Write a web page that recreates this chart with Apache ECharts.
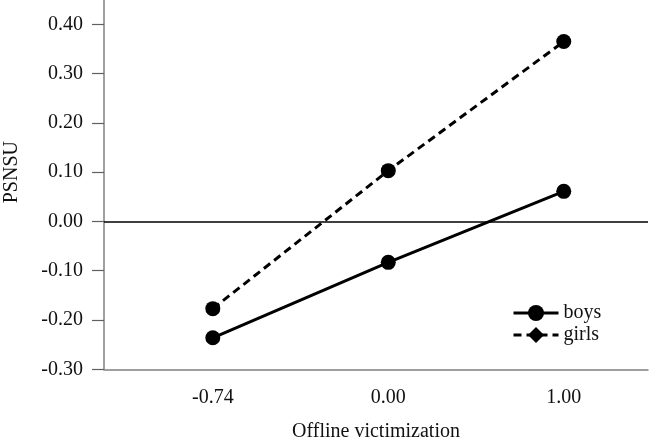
<!DOCTYPE html>
<html>
<head>
<meta charset="utf-8">
<script src="https://cdn.jsdelivr.net/npm/echarts@6/dist/echarts.min.js"></script>
<style>html,body{margin:0;padding:0;background:#fff}#c{width:650px;height:438px}</style>
</head>
<body>
<div id="c"></div>
<script>
var categories = ['-0.74', '0.00', '1.00'];
var boys = [-0.236, -0.083, 0.061];
var girls = [-0.177, 0.103, 0.365];
var yTicks = [-0.3, -0.2, -0.1, 0.0, 0.1, 0.2, 0.3, 0.4];

var FONT = 'Liberation Serif';
function pts(arr, sym) {
  return arr.map(function (v, i) {
    var d = { value: [i, v] };
    if (sym) d.symbol = sym;
    return d;
  });
}
var chart = echarts.init(document.getElementById('c'), null, { renderer: 'canvas' });
chart.setOption({
  animation: false,
  backgroundColor: '#fff',
  textStyle: { fontFamily: FONT },
  grid: { left: 104, right: 2, top: -25, bottom: 68.7, containLabel: false, outerBoundsMode: 'none' },
  legend: {
    orient: 'vertical',
    left: 507,
    top: 298,
    itemWidth: 45,
    itemHeight: 20,
    itemGap: 2,
    lineStyle: { width: 3 },
    textStyle: { fontFamily: FONT, fontSize: 20, color: '#111' },
    data: ['boys', 'girls']
  },
  xAxis: {
    type: 'value',
    min: -0.62,
    max: 2.48,
    name: 'Offline victimization',
    nameLocation: 'middle',
    nameGap: 52,
    nameTextStyle: { fontFamily: FONT, fontSize: 20, color: '#111' },
    axisLine: { show: true, onZero: false, lineStyle: { color: '#808080', width: 1.5 } },
    axisTick: { show: false },
    splitLine: { show: false },
    axisLabel: {
      customValues: [0, 1, 2],
      margin: 18,
      fontFamily: FONT, fontSize: 20, color: '#111',
      formatter: function (v) { return categories[Math.round(v)]; }
    }
  },
  yAxis: {
    type: 'value',
    min: -0.3,
    max: 0.5,
    interval: 0.1,
    name: 'PSNSU',
    nameLocation: 'middle',
    nameGap: 82,
    nameTextStyle: { fontFamily: FONT, fontSize: 20, color: '#111' },
    axisLine: { show: true, onZero: false, lineStyle: { color: '#808080', width: 1.5 } },
    axisTick: { show: true, inside: false, length: 12, lineStyle: { color: '#606060', width: 1.2 } },
    splitLine: { show: false },
    axisLabel: {
      customValues: yTicks,
      margin: 21,
      fontFamily: FONT, fontSize: 20, color: '#111',
      formatter: function (v) { return v.toFixed(2); }
    }
  },
  series: [
    {
      name: 'boys',
      type: 'line',
      symbol: 'circle',
      symbolSize: 15,
      itemStyle: { color: '#000' },
      lineStyle: { color: '#000', width: 3 },
      data: pts(boys),
      markLine: {
        silent: true,
        symbol: 'none',
        label: { show: false },
        lineStyle: { color: '#000', width: 1.5, type: 'solid' },
        data: [{ yAxis: 0 }]
      }
    },
    {
      name: 'girls',
      type: 'line',
      symbol: 'diamond',
      symbolSize: 15,
      itemStyle: { color: '#000' },
      lineStyle: { color: '#000', width: 3, type: [8, 5] },
      data: pts(girls, 'circle')
    }
  ]
});
</script>
</body>
</html>
